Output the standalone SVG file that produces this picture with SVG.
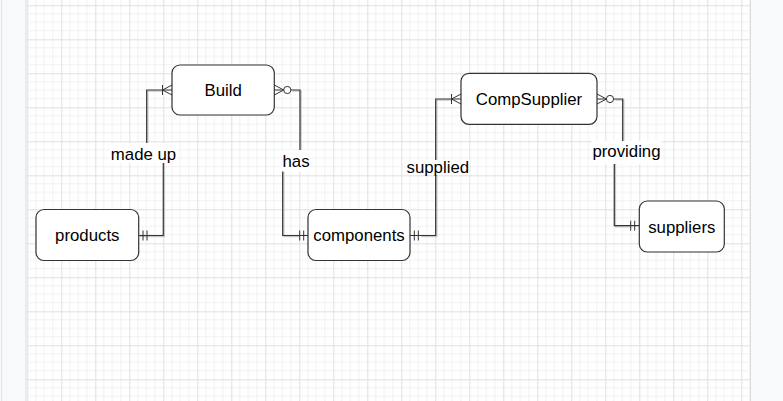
<svg xmlns="http://www.w3.org/2000/svg" width="783" height="401" viewBox="0 0 783 401">
<defs>
<pattern id="grid" x="27.3" y="5.3" width="34" height="34" patternUnits="userSpaceOnUse">
<path d="M8.5,0V34M17,0V34M25.5,0V34M0,8.5H34M0,17H34M0,25.5H34" stroke="#f1f1f1" stroke-width="1" fill="none"/>
<path d="M0.5,0V34M0,0.5H34" stroke="#e0e0e0" stroke-width="1" fill="none"/>
</pattern>
<marker id="mandOne" markerUnits="userSpaceOnUse" viewBox="-12 -8 14 16" refX="0" refY="0" markerWidth="14" markerHeight="16" orient="auto-start-reverse">
<path d="M-4.3,-5V5M-8.3,-5V5" stroke="#333" stroke-width="1" fill="none"/>
</marker>
<marker id="oneMany" markerUnits="userSpaceOnUse" viewBox="-12 -8 14 16" refX="0" refY="0" markerWidth="14" markerHeight="16" orient="auto-start-reverse">
<path d="M0,-5L-9.5,0L0,5M-9.5,-5V5" stroke="#333" stroke-width="1" fill="none"/>
</marker>
<marker id="zeroMany" markerUnits="userSpaceOnUse" viewBox="-20 -8 22 16" refX="0" refY="0" markerWidth="22" markerHeight="16" orient="auto-start-reverse">
<path d="M0,-5L-9.5,0L0,5" stroke="#333" stroke-width="1" fill="none"/>
<circle cx="-13" cy="0" r="3.6" fill="#fff" stroke="#333" stroke-width="1"/>
</marker>
</defs>
<style>
.node rect{fill:#fff;stroke:#333;stroke-width:1.2}
text{font-family:"Liberation Sans",Arial,Helvetica,sans-serif;font-size:16.8px;fill:#000;text-anchor:middle}
.edge{fill:none;stroke:#333;stroke-width:1.2}
.shade{fill:none;stroke:#c8c8c8;stroke-width:1.2}
.lbl{fill:#fff}
</style>
<rect x="0" y="0" width="783" height="401" fill="#f8f9fa"/>
<line x1="1.5" y1="0" x2="1.5" y2="401" stroke="#e3e3e3"/>
<rect x="26" y="-1" width="724.5" height="403" fill="#fff" stroke="#dcdcdc" stroke-width="1"/>
<rect x="26.5" y="0" width="723.5" height="401" fill="url(#grid)"/>

<g id="connectors">
<g transform="translate(1.2,1.2)">
<path class="shade" d="M138.7,235.5H163.3V155H146.7V90H162"/>
<path class="shade" d="M291,90H300V161H282.7V235.5H298"/>
<path class="shade" d="M420,235.5H435.7V99H451"/>
<path class="shade" d="M614,99H622.7V152H614.3V225.7H629"/>
</g>
<path id="e-madeup" class="edge" d="M138.7,235.5H163.3V155H146.7V90H172" marker-start="url(#mandOne)" marker-end="url(#oneMany)"/>
<path id="e-has" class="edge" d="M274.3,90H300V161H282.7V235.5H308" marker-start="url(#zeroMany)" marker-end="url(#mandOne)"/>
<path id="e-supplied" class="edge" d="M410,235.5H435.7V99H461" marker-start="url(#mandOne)" marker-end="url(#oneMany)"/>
<path id="e-providing" class="edge" d="M597,99H622.7V152H614.3V225.7H639" marker-start="url(#zeroMany)" marker-end="url(#mandOne)"/>
<rect class="lbl" x="110" y="143" width="67" height="20"/>
<text x="143.5" y="159.5">made up</text>
<rect class="lbl" x="282" y="150" width="28" height="21.5"/>
<text x="296" y="166.7">has</text>
<rect class="lbl" x="405.5" y="160" width="64.5" height="15"/>
<text x="437.8" y="173.3">supplied</text>
<rect class="lbl" x="591.5" y="141" width="70" height="23"/>
<text x="626.5" y="157.3">providing</text>
</g>

<g id="node-build" class="node">
<rect x="172" y="65" width="102.3" height="50" rx="8"/>
<text x="223.2" y="96">Build</text>
</g>
<g id="node-products" class="node">
<rect x="36" y="209.5" width="102.7" height="51" rx="8"/>
<text x="87.3" y="241.3">products</text>
</g>
<g id="node-components" class="node">
<rect x="308" y="209.5" width="102" height="51" rx="8"/>
<text x="359" y="241.3">components</text>
</g>
<g id="node-compsupplier" class="node">
<rect x="461" y="73.3" width="136" height="51" rx="8"/>
<text x="529" y="104.7">CompSupplier</text>
</g>
<g id="node-suppliers" class="node">
<rect x="639.3" y="201" width="85" height="51" rx="8"/>
<text x="681.8" y="232.5">suppliers</text>
</g>
</svg>
